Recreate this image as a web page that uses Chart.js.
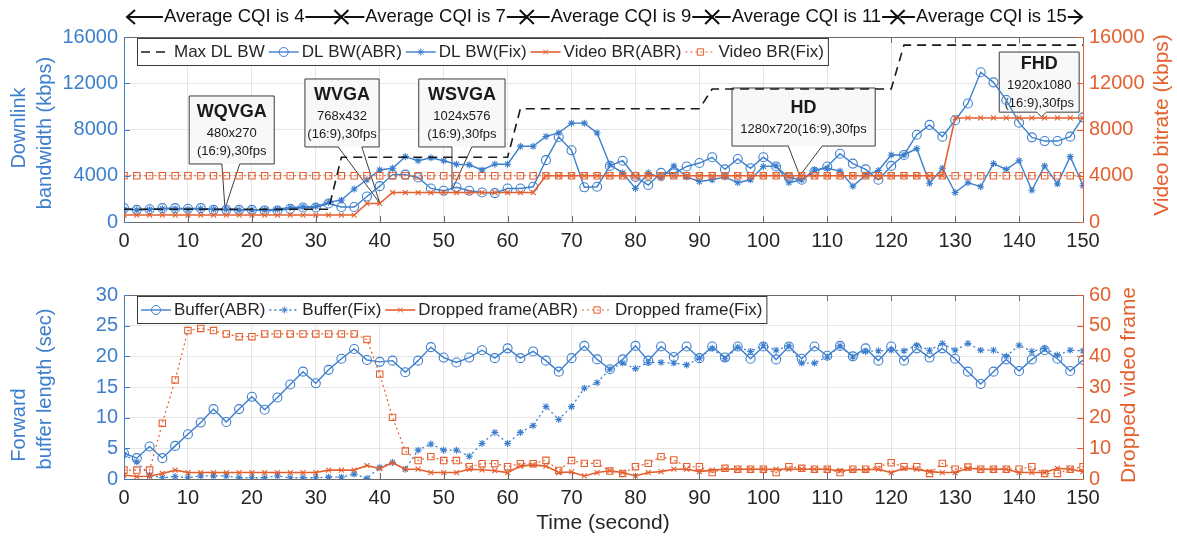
<!DOCTYPE html>
<html>
<head>
<meta charset="utf-8">
<script src="https://cdn.jsdelivr.net/npm/chart.js@4.4.1/dist/chart.umd.min.js"></script>
<style>
  html, body { margin: 0; padding: 0; background: #fff; }
  #wrap { position: relative; width: 1177px; height: 542px; }
  .panel { position: absolute; left: 0; width: 1177px; }
  #top { top: 0; height: 262px; }
  #bottom { top: 262px; height: 280px; }
</style>
</head>
<body>
<div id="wrap">
  <div class="panel" id="top"><canvas id="bwChart"></canvas></div>
  <div class="panel" id="bottom"><canvas id="bufChart"></canvas></div>
</div>
<script>
// sample times (seconds)
const times = [0,2,4,6,8,10,12,14,16,18,20,22,24,26,28,30,32,34,36,38,
  40,42,44,46,48,50,52,54,56,58,60,62,64,66,68,70,72,74,76,78,
  80,82,84,86,88,90,92,94,96,98,100,102,104,106,108,110,112,114,116,118,
  120,122,124,126,128,130,132,134,136,138,140,142,144,146,148,150];

// top panel (kbps)
const maxBwTime = [0, 32, 34, 60, 62, 90, 92, 120, 122, 150];
const maxBwValue = [1100, 1100, 5600, 5600, 9800, 9800, 11500, 11500, 15300, 15300];

const dlBwAbr = [1200,1050,1100,1200,1200,1150,1200,1050,1050,1050,
  1050,1000,1000,1150,1250,1250,1600,1300,1300,2200,
  3100,4100,4100,3850,2900,2700,3000,2700,2550,2500,
  2900,2900,3050,5350,7350,6200,3000,3050,4850,5300,
  3900,3200,4250,4200,4800,5100,5600,4550,5450,4650,
  5600,4800,3850,3650,4350,4800,5900,5050,4550,3650,
  4850,5800,7550,8400,7380,8800,10250,12950,12080,10550,
  8590,7320,7000,7000,7380,9050];

const dlBwFix = [1100,1050,1100,1150,1150,1100,1150,1100,1100,1050,
  1050,1050,1100,1250,1300,1350,1700,1900,2850,3650,
  4500,4650,5650,5300,5550,5300,5000,4950,4500,5000,
  5000,6550,6550,7400,7700,8550,8550,7700,4950,4250,
  2900,4250,3800,4850,3900,3500,3650,3900,3400,3650,
  4800,4850,3400,3650,4500,4650,4400,3100,4050,4450,
  5800,5800,6350,3350,4650,2550,3400,3050,5050,4550,
  5300,2750,4850,3300,5650,3150];

const videoBrAbr = [600,600,600,600,600,600,600,600,600,600,
  600,600,600,600,600,600,600,600,600,1600,
  1600,2550,2550,2550,2550,2550,2550,2550,2550,2550,
  2550,2550,2550,4000,4000,4000,4000,4000,4000,4000,
  4000,4000,4000,4000,4000,4000,4000,4000,4000,4000,
  4000,4000,4000,4000,4000,4000,4000,4000,4000,4000,
  4000,4000,4000,4000,4000,9000,9000,9000,9000,9000,
  9000,9000,9000,9000,9000,9000];

const videoBrFix = [4000,4000,4000,4000,4000,4000,4000,4000,4000,4000,
  4000,4000,4000,4000,4000,4000,4000,4000,4000,4000,
  4000,4000,4000,4000,4000,4000,4000,4000,4000,4000,
  4000,4000,4000,4000,4000,4000,4000,4000,4000,4000,
  4000,4000,4000,4000,4000,4000,4000,4000,4000,4000,
  4000,4000,4000,4000,4000,4000,4000,4000,4000,4000,
  4000,4000,4000,4000,4000,4000,4000,4000,4000,4000,
  4000,4000,4000,4000,4000,4000];

// bottom panel
const bufferAbr = [4.2,3.4,5.3,3.4,5.4,7.3,9.2,11.4,9.3,11.4,
  13.4,11.3,13.3,15.4,17.5,15.6,17.8,19.6,21.2,19.4,
  19.1,19.3,17.4,19.3,21.5,19.8,19.0,19.8,21.0,19.7,
  21.3,19.7,20.8,19.3,17.5,19.7,21.7,19.5,17.9,19.5,
  21.7,19.3,21.6,19.9,21.6,19.7,21.6,19.8,21.6,19.6,
  21.6,19.5,21.6,19.6,21.6,20.1,21.7,20.0,21.3,19.3,
  21.6,19.3,21.3,19.8,21.3,19.6,17.5,15.5,17.5,19.5,
  17.6,19.5,21.0,19.6,17.6,19.4];

const bufferFix = [4.0,2.8,0.6,0.2,0.4,0.2,0.5,0.5,0.5,0.2,
  0.2,0.2,0.5,0.2,0.2,0.2,0.3,0.3,0.8,0.1,
  1.9,2.7,1.6,4.7,5.7,4.7,4.7,3.7,5.8,7.6,
  5.8,7.6,8.7,11.8,9.7,11.8,14.8,15.7,17.9,18.9,
  18.0,19.0,19.0,18.9,18.6,19.7,21.3,19.6,21.5,20.8,
  21.8,21.0,21.7,18.9,18.9,19.9,21.7,19.9,20.8,20.9,
  21.0,20.9,21.8,21.0,22.1,21.0,22.1,21.0,21.0,20.0,
  21.8,20.8,21.3,20.2,21.0,20.9];

const droppedAbr = [1.3,0.8,0.9,1.8,2.9,2.1,2.1,2.1,2.1,2.1,
  2.1,2.1,2.1,2.1,2.1,2.1,2.9,2.9,2.9,4.4,
  3.4,5.3,3.2,3.2,2.1,2.1,2.1,3.2,3.0,2.7,
  2.1,4.2,4.6,4.2,2.1,2.3,1.0,2.1,2.7,2.1,
  1.0,2.1,2.4,3.2,3.2,2.4,2.9,3.2,3.2,3.2,
  3.2,3.2,3.2,3.2,3.2,3.2,2.7,3.0,3.0,3.2,
  2.1,3.5,3.2,2.4,2.1,2.1,3.5,3.2,3.2,3.2,
  2.1,2.1,2.1,3.5,3.2,2.4];

const droppedFix = [2.9,2.9,2.9,18.2,32.3,48.4,49.1,48.4,47.3,46.4,
  46.4,47.3,47.3,47.3,47.3,47.3,47.3,47.3,47.3,45.5,
  34.2,20.1,9.1,6.0,7.3,6.0,6.0,4.0,5.0,5.0,
  4.0,5.0,5.0,6.1,2.8,6.0,5.1,5.1,2.6,1.8,
  4.0,5.1,7.3,6.2,4.0,4.0,2.1,3.5,3.2,3.2,
  3.2,2.1,4.0,3.5,3.2,3.2,2.1,3.2,3.2,4.0,
  5.3,4.0,4.0,1.8,5.1,3.2,3.9,3.2,3.2,3.2,
  3.2,4.0,1.8,1.8,3.2,4.0];

// CQI bands above the top panel
const cqiLabels = ['Average CQI is 4', 'Average CQI is 7', 'Average CQI is 9', 'Average CQI is 11', 'Average CQI is 15'];
const cqiBounds = [0, 34, 63, 92, 121, 150];

// resolution callouts (time / kbps)
const callouts = [
  { title: 'WQVGA', lines: ['480x270', '(16:9),30fps'], box: [10.2, 23.5, 10900, 5020], base: [15.3, 18.1], tip: [15.8, 1150] },
  { title: 'WVGA', lines: ['768x432', '(16:9),30fps'], box: [28.3, 39.9, 12370, 6490], base: [33.5, 37.2], tip: [40, 1640] },
  { title: 'WSVGA', lines: ['1024x576', '(16:9),30fps'], box: [46.1, 59.6, 12370, 6490], base: [51.3, 54.4], tip: [51.3, 2770] },
  { title: 'HD', lines: ['1280x720(16:9),30fps'], box: [95.1, 117.5, 11590, 6570], base: [103.9, 109.2], tip: [105.7, 4000] },
  { title: 'FHD', lines: ['1920x1080', '(16:9),30fps'], box: [136.9, 149.4, 14700, 9500], base: [142.8, 144.3], tip: [143.5, 9100] }
];

const FONT = '"Liberation Sans", Arial, sans-serif';
const BLUE = '#3d7fcd';
const ORANGE = '#e4602f';
const DARK = '#262626';
const GRID = '#e6e6e6';
const FRAME = '#6a6a6a';

Chart.defaults.font.family = FONT;

function pairs(xs, ys) {
    return ys.map((v, i) => ({ x: xs[i], y: v }));
}

function drawMarker(ctx, style, radius, x, y) {
    ctx.fillStyle = 'rgba(0,0,0,0)';
    Chart.helpers.drawPoint(ctx, { pointStyle: style, radius: radius, rotation: 0, borderWidth: 1 }, x, y);
}

function drawVText(ctx, text, x, y, font, color) {
    ctx.save();
    ctx.translate(x, y);
    ctx.rotate(-Math.PI / 2);
    ctx.font = font;
    ctx.fillStyle = color;
    ctx.textAlign = 'center';
    ctx.textBaseline = 'middle';
    ctx.fillText(text, 0, 0);
    ctx.restore();
}

function drawLegend(chart, order) {
    const ctx = chart.ctx;
    const area = chart.chartArea;
    const x0 = area.left + 13;
    const y0 = area.top + 1;
    const h = 27;
    ctx.save();
    ctx.font = '17px ' + FONT;
    let w = 4;
    order.forEach(i => { w += 33 + ctx.measureText(chart.data.datasets[i].label).width + 4; });
    ctx.fillStyle = '#fff';
    ctx.fillRect(x0, y0, w, h);
    ctx.strokeStyle = '#3a3a3a';
    ctx.lineWidth = 1;
    ctx.strokeRect(x0 + 0.5, y0 + 0.5, w, h);
    const cy = y0 + h / 2 + 0.5;
    let x = x0 + 4;
    order.forEach(i => {
        const ds = chart.data.datasets[i];
        ctx.strokeStyle = ds.borderColor;
        ctx.lineWidth = ds.borderWidth;
        ctx.setLineDash(ds.borderDash || []);
        ctx.beginPath();
        ctx.moveTo(x, cy);
        ctx.lineTo(x + 30, cy);
        ctx.stroke();
        ctx.setLineDash([]);
        if (ds.pointRadius > 0) {
            ctx.lineWidth = 1;
            drawMarker(ctx, ds.pointStyle, ds.pointRadius, x + 15, cy);
        }
        ctx.fillStyle = DARK;
        ctx.textBaseline = 'middle';
        ctx.fillText(ds.label, x + 33, cy);
        x += 33 + ctx.measureText(ds.label).width + 4;
    });
    ctx.restore();
}

function drawFrame(chart, leftId, rightId) {
    const ctx = chart.ctx;
    const a = chart.chartArea;
    ctx.save();
    ctx.lineWidth = 1;
    ctx.strokeStyle = FRAME;
    ctx.beginPath();
    ctx.moveTo(a.left, a.top + 0.5);
    ctx.lineTo(a.right, a.top + 0.5);
    chart.scales.x.ticks.forEach(t => {
        const px = Math.round(chart.scales.x.getPixelForValue(t.value)) + 0.5;
        ctx.moveTo(px, a.bottom); ctx.lineTo(px, a.bottom - 6);
        ctx.moveTo(px, a.top); ctx.lineTo(px, a.top + 6);
    });
    ctx.stroke();
    ctx.strokeStyle = BLUE;
    ctx.beginPath();
    chart.scales[leftId].ticks.forEach(t => {
        const py = Math.round(chart.scales[leftId].getPixelForValue(t.value)) + 0.5;
        ctx.moveTo(a.left, py); ctx.lineTo(a.left + 6, py);
    });
    ctx.stroke();
    ctx.strokeStyle = ORANGE;
    ctx.beginPath();
    chart.scales[rightId].ticks.forEach(t => {
        const py = Math.round(chart.scales[rightId].getPixelForValue(t.value)) + 0.5;
        ctx.moveTo(a.right, py); ctx.lineTo(a.right - 6, py);
    });
    ctx.stroke();
    ctx.restore();
}

function drawCallout(chart, c) {
    const ctx = chart.ctx;
    const xs = chart.scales.x, ys = chart.scales.y;
    const l = xs.getPixelForValue(c.box[0]), r = xs.getPixelForValue(c.box[1]);
    const t = ys.getPixelForValue(c.box[2]), b = ys.getPixelForValue(c.box[3]);
    const p1 = xs.getPixelForValue(c.base[0]), p2 = xs.getPixelForValue(c.base[1]);
    const tx = xs.getPixelForValue(c.tip[0]), ty = ys.getPixelForValue(c.tip[1]);
    ctx.save();
    ctx.fillStyle = '#f8f8f8';
    ctx.fillRect(l, t, r - l, b - t);
    ctx.strokeStyle = '#3c3c3c';
    ctx.lineWidth = 1;
    ctx.beginPath();
    ctx.moveTo(p1, b);
    ctx.lineTo(l, b);
    ctx.lineTo(l, t);
    ctx.lineTo(r, t);
    ctx.lineTo(r, b);
    ctx.lineTo(p2, b);
    ctx.lineTo(tx, ty);
    ctx.lineTo(p1, b);
    ctx.stroke();
    const total = 24 + c.lines.length * 18;
    let y = (t + b) / 2 - total / 2;
    const cx = (l + r) / 2;
    ctx.textAlign = 'center';
    ctx.textBaseline = 'middle';
    ctx.fillStyle = '#1a1a1a';
    ctx.font = 'bold 18px ' + FONT;
    ctx.fillText(c.title, cx, y + 12);
    y += 24;
    ctx.font = '13px ' + FONT;
    c.lines.forEach(line => {
        ctx.fillText(line, cx, y + 9);
        y += 18;
    });
    ctx.restore();
}

function drawCqi(chart) {
    const ctx = chart.ctx;
    const xs = chart.scales.x;
    const y = 17;
    ctx.save();
    ctx.strokeStyle = '#111';
    ctx.fillStyle = '#111';
    ctx.lineWidth = 2;
    ctx.font = '18.5px ' + FONT;
    ctx.textAlign = 'center';
    ctx.textBaseline = 'middle';
    cqiLabels.forEach((label, i) => {
        const L = xs.getPixelForValue(cqiBounds[i]) + 3;
        const R = xs.getPixelForValue(cqiBounds[i + 1]) - (i === cqiLabels.length - 1 ? 1 : 0);
        const cx = (L + R) / 2;
        const w = ctx.measureText(label).width;
        ctx.fillText(label, cx, y);
        ctx.beginPath();
        ctx.moveTo(L, y); ctx.lineTo(cx - w / 2 - 1, y);
        ctx.moveTo(cx + w / 2 + 1, y); ctx.lineTo(R, y);
        ctx.stroke();
    });
    ctx.beginPath();
    // left arrowhead
    const x0 = xs.getPixelForValue(cqiBounds[0]) + 3;
    ctx.moveTo(x0 + 8, y - 7); ctx.lineTo(x0, y); ctx.lineTo(x0 + 8, y + 7);
    // right arrowhead
    const x1 = xs.getPixelForValue(cqiBounds[cqiBounds.length - 1]) - 1;
    ctx.moveTo(x1 - 8, y - 7); ctx.lineTo(x1, y); ctx.lineTo(x1 - 8, y + 7);
    // band separators
    for (let i = 1; i < cqiBounds.length - 1; i++) {
        const bx = xs.getPixelForValue(cqiBounds[i]);
        ctx.moveTo(bx - 7, y - 7); ctx.lineTo(bx + 7, y + 7);
        ctx.moveTo(bx + 7, y - 7); ctx.lineTo(bx - 7, y + 7);
    }
    ctx.stroke();
    ctx.restore();
}

function xScale(height) {
    return {
        type: 'linear', min: 0, max: 150,
        ticks: { stepSize: 10, color: DARK, font: { size: 20 }, padding: 7, maxRotation: 0, autoSkip: false },
        grid: { color: GRID, drawTicks: false },
        border: { color: FRAME },
        afterFit: s => { s.height = height; }
    };
}

function yScale(position, max, step, color, width, showGrid) {
    return {
        type: 'linear', position: position, min: 0, max: max,
        ticks: { stepSize: step, color: color, font: { size: 20 }, padding: 6, callback: v => v },
        grid: { display: showGrid, color: GRID, drawTicks: false },
        border: { color: color },
        afterFit: s => { s.width = width; }
    };
}

const topDecor = {
    id: 'topDecor',
    beforeDatasetsDraw(chart) {
        callouts.forEach(c => drawCallout(chart, c));
    },
    afterDatasetsDraw(chart) {
        drawFrame(chart, 'y', 'y2');
        drawLegend(chart, [0, 1, 2, 3, 4]);
    },
    afterDraw(chart) {
        const ctx = chart.ctx;
        drawCqi(chart);
        drawVText(ctx, 'Downlink', 19, 128, '20px ' + FONT, BLUE);
        drawVText(ctx, 'bandwidth (kbps)', 45, 133, '20px ' + FONT, BLUE);
        drawVText(ctx, 'Video bitrate (kbps)', 1162, 125, '21px ' + FONT, ORANGE);
    }
};

const bottomDecor = {
    id: 'bottomDecor',
    afterDatasetsDraw(chart) {
        drawFrame(chart, 'y', 'y2');
        drawLegend(chart, [0, 1, 2, 3]);
    },
    afterDraw(chart) {
        const ctx = chart.ctx;
        drawVText(ctx, 'Forward', 19, 425 - 262, '20px ' + FONT, BLUE);
        drawVText(ctx, 'buffer length (sec)', 45, 389 - 262, '20px ' + FONT, BLUE);
        drawVText(ctx, 'Dropped video frame', 1129, 385 - 262, '21px ' + FONT, ORANGE);
        ctx.save();
        ctx.font = '21px ' + FONT;
        ctx.fillStyle = DARK;
        ctx.textAlign = 'center';
        ctx.textBaseline = 'middle';
        ctx.fillText('Time (second)', 603, 523 - 262);
        ctx.restore();
    }
};

const commonOptions = {
    responsive: true,
    maintainAspectRatio: false,
    animation: false,
    plugins: { legend: { display: false }, tooltip: { enabled: false } }
};

new Chart(document.getElementById('bwChart').getContext('2d'), {
    type: 'line',
    data: {
        datasets: [
            { label: 'Max DL BW', data: pairs(maxBwTime, maxBwValue), yAxisID: 'y', borderColor: '#1a1a1a', borderWidth: 1.6, borderDash: [9, 6], pointRadius: 0, order: 0 },
            { label: 'DL BW(ABR)', data: pairs(times, dlBwAbr), yAxisID: 'y', borderColor: BLUE, borderWidth: 1.4, pointStyle: 'circle', pointRadius: 4.5, pointBorderWidth: 1.1, pointBackgroundColor: 'rgba(0,0,0,0)', order: 3 },
            { label: 'DL BW(Fix)', data: pairs(times, dlBwFix), yAxisID: 'y', borderColor: BLUE, borderWidth: 1.4, pointStyle: 'star', pointRadius: 3.5, pointBorderWidth: 1.1, order: 4 },
            { label: 'Video BR(ABR)', data: pairs(times, videoBrAbr), yAxisID: 'y2', borderColor: ORANGE, borderWidth: 1.6, pointStyle: 'crossRot', pointRadius: 3.5, pointBorderWidth: 1.1, order: 1 },
            { label: 'Video BR(Fix)', data: pairs(times, videoBrFix), yAxisID: 'y2', borderColor: ORANGE, borderWidth: 1.2, borderDash: [2, 3], pointStyle: 'rect', pointRadius: 4.5, pointBorderWidth: 1.1, pointBackgroundColor: 'rgba(0,0,0,0)', order: 2 }
        ]
    },
    options: Object.assign({}, commonOptions, {
        layout: { padding: { top: 37, left: 0, right: 0, bottom: 0 } },
        elements: { line: { tension: 0 } },
        scales: {
            x: xScale(40),
            y: yScale('left', 16000, 4000, BLUE, 124, true),
            y2: yScale('right', 16000, 4000, ORANGE, 94, false)
        }
    }),
    plugins: [topDecor]
});

new Chart(document.getElementById('bufChart').getContext('2d'), {
    type: 'line',
    data: {
        datasets: [
            { label: 'Buffer(ABR)', data: pairs(times, bufferAbr), yAxisID: 'y', borderColor: BLUE, borderWidth: 1.4, pointStyle: 'circle', pointRadius: 4.5, pointBorderWidth: 1.1, pointBackgroundColor: 'rgba(0,0,0,0)', order: 2 },
            { label: 'Buffer(Fix)', data: pairs(times, bufferFix), yAxisID: 'y', borderColor: BLUE, borderWidth: 1.3, borderDash: [2, 3], pointStyle: 'star', pointRadius: 3.5, pointBorderWidth: 1.1, order: 3 },
            { label: 'Dropped frame(ABR)', data: pairs(times, droppedAbr), yAxisID: 'y2', borderColor: ORANGE, borderWidth: 1.6, pointStyle: 'crossRot', pointRadius: 3.5, pointBorderWidth: 1.1, order: 0 },
            { label: 'Dropped frame(Fix)', data: pairs(times, droppedFix), yAxisID: 'y2', borderColor: ORANGE, borderWidth: 1.2, borderDash: [2, 3], pointStyle: 'rect', pointRadius: 4.5, pointBorderWidth: 1.1, pointBackgroundColor: 'rgba(0,0,0,0)', order: 1 }
        ]
    },
    options: Object.assign({}, commonOptions, {
        layout: { padding: { top: 33, left: 0, right: 0, bottom: 0 } },
        elements: { line: { tension: 0 } },
        scales: {
            x: xScale(63),
            y: yScale('left', 30, 5, BLUE, 124, true),
            y2: yScale('right', 60, 10, ORANGE, 94, false)
        }
    }),
    plugins: [bottomDecor]
});
</script>
</body>
</html>
